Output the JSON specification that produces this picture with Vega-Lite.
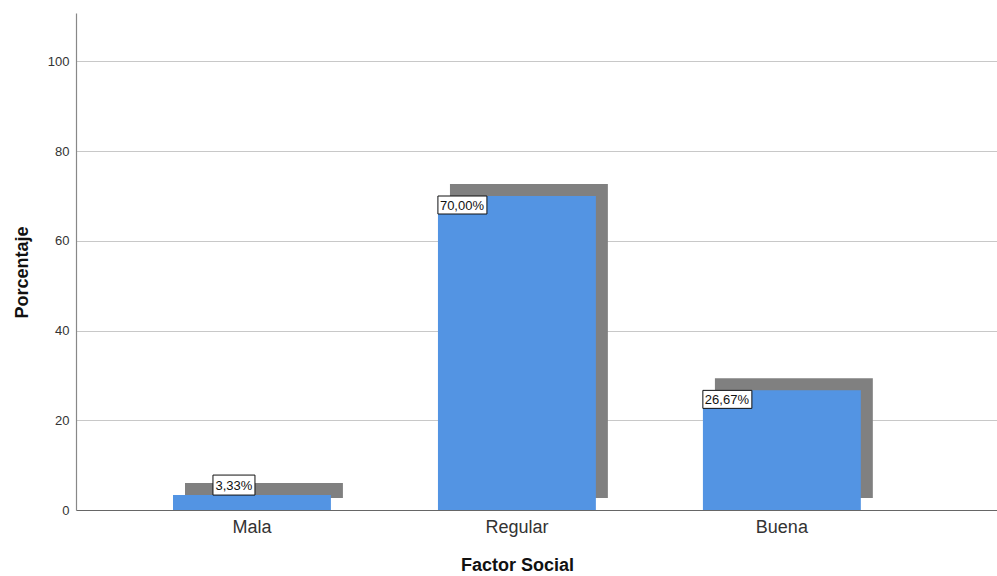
{
  "$schema": "https://vega.github.io/schema/vega-lite/v6.json",
  "width": 921,
  "height": 497,
  "autosize": {"type": "none"},
  "padding": {"left": 76, "top": 13, "right": 0, "bottom": 66},
  "background": "white",
  "config": {
    "font": "Liberation Sans",
    "view": {"stroke": null}
  },
  "data": {
    "values": [
      {"factor": "Mala", "pct": 3.33, "etiqueta": "3,33%"},
      {"factor": "Regular", "pct": 70.0, "etiqueta": "70,00%"},
      {"factor": "Buena", "pct": 26.67, "etiqueta": "26,67%"}
    ]
  },
  "encoding": {
    "x": {
      "field": "factor",
      "type": "nominal",
      "sort": ["Mala", "Regular", "Buena"],
      "scale": {"paddingInner": 0.404, "paddingOuter": 0.44, "align": 0.416},
      "axis": {
        "title": "Factor Social",
        "titleFont": "Liberation Sans",
        "titleFontSize": 18,
        "titleFontWeight": "bold",
        "titleColor": "#111111",
        "titleX": 441,
        "titleY": 46,
        "labelAngle": 0,
        "labelFontSize": 18,
        "labelColor": "#333333",
        "labelPadding": 8,
        "ticks": false,
        "domainColor": "#666666",
        "domainWidth": 1.2,
        "grid": false
      }
    }
  },
  "layer": [
    {
      "mark": {"type": "bar", "color": "#808080", "xOffset": 12, "yOffset": -12, "y2Offset": -12},
      "encoding": {
        "y": {
          "field": "pct",
          "type": "quantitative",
          "scale": {"domain": [0, 110.8], "nice": false},
          "axis": {
            "title": "Porcentaje",
            "titleFontSize": 18,
            "titleFontWeight": "bold",
            "titleColor": "#111111",
            "titleX": -45,
            "titleY": 259,
            "values": [0, 20, 40, 60, 80, 100],
            "labelFontSize": 13,
            "labelColor": "#333333",
            "labelPadding": 7,
            "ticks": false,
            "domainColor": "#888888",
            "domainWidth": 1.2,
            "gridColor": "#c8c8c8",
            "gridWidth": 1.2
          }
        },
        "y2": {"datum": 0}
      }
    },
    {
      "mark": {"type": "bar", "color": "#5394e3"},
      "encoding": {
        "y": {"field": "pct", "type": "quantitative"},
        "y2": {"datum": 0}
      }
    },
    {
      "transform": [{"filter": "datum.pct >= 10"}],
      "mark": {"type": "bar", "width": 49, "fill": "white", "stroke": "#111111", "strokeWidth": 1, "xOffset": -54.5, "y2Offset": 18},
      "encoding": {
        "y": {"field": "pct", "type": "quantitative"},
        "y2": {"field": "pct"}
      }
    },
    {
      "transform": [{"filter": "datum.pct >= 10"}],
      "mark": {"type": "text", "align": "left", "baseline": "middle", "fontSize": 13, "color": "#111111", "xOffset": -77, "yOffset": 9.5},
      "encoding": {
        "y": {"field": "pct", "type": "quantitative"},
        "text": {"field": "etiqueta"}
      }
    },
    {
      "transform": [{"filter": "datum.pct < 10"}],
      "mark": {"type": "bar", "width": 42, "fill": "white", "stroke": "#111111", "strokeWidth": 1, "xOffset": -18, "yOffset": -20},
      "encoding": {
        "y": {"field": "pct", "type": "quantitative"},
        "y2": {"field": "pct"}
      }
    },
    {
      "transform": [{"filter": "datum.pct < 10"}],
      "mark": {"type": "text", "align": "center", "baseline": "middle", "fontSize": 13, "color": "#111111", "xOffset": -18, "yOffset": -9.5},
      "encoding": {
        "y": {"field": "pct", "type": "quantitative"},
        "text": {"field": "etiqueta"}
      }
    }
  ]
}
